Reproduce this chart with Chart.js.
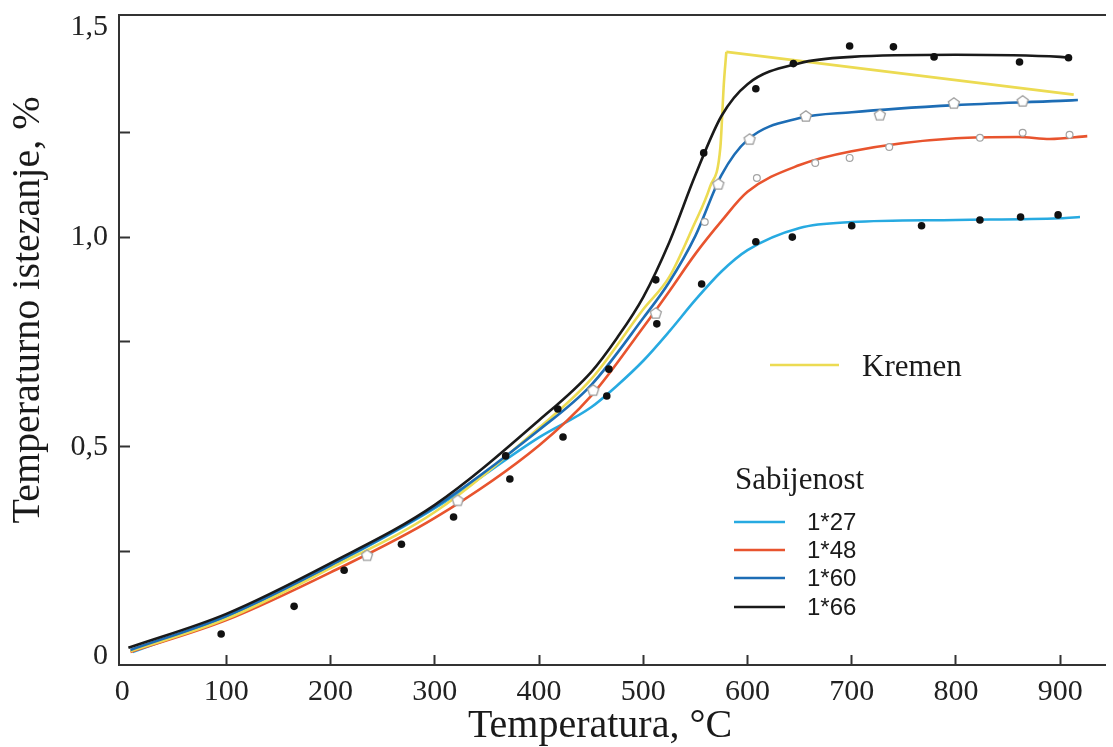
<!DOCTYPE html>
<html><head><meta charset="utf-8">
<script src="https://cdn.jsdelivr.net/npm/chart.js@4/dist/chart.umd.min.js"></script>
<style>html,body{margin:0;padding:0;background:#fff;}canvas{display:block;}</style>
</head><body>
<canvas id="c" width="1113" height="747" style="width:1113px;height:747px"></canvas>
<script>
// ---- data ----
const xTickValues = [0, 100, 200, 300, 400, 500, 600, 700, 800, 900];
const yTickValues = [0, 0.25, 0.5, 0.75, 1, 1.25, 1.5];
const yTickLabels = ['0', '', '0,5', '', '1,0', '', '1,5'];

const seriesNames = ['1*27', '1*48', '1*60', '1*66'];
const kremenName = 'Kremen';
const legendTitle = 'Sabijenost';
const xTitle = 'Temperatura, °C';
const yTitle = 'Temperaturno istezanje, %';

// fitted curves
const c27X = [10, 100, 200, 300, 400, 450, 475, 500, 525, 550, 575, 600, 650, 700, 800, 900, 919];
const c27Y = [0.010, 0.094, 0.215, 0.353, 0.522, 0.594, 0.646, 0.705, 0.775, 0.850, 0.918, 0.969, 1.022, 1.036, 1.041, 1.045, 1.048];

const c48X = [8, 100, 200, 300, 400, 450, 500, 525, 550, 575, 600, 650, 700, 800, 860, 890, 926];
const c48Y = [0.010, 0.086, 0.200, 0.330, 0.503, 0.621, 0.785, 0.871, 0.960, 1.038, 1.108, 1.172, 1.205, 1.236, 1.239, 1.234, 1.241];

const c60X = [8, 100, 200, 300, 400, 450, 500, 525, 550, 575, 600, 650, 700, 800, 900, 917];
const c60Y = [0.015, 0.096, 0.217, 0.356, 0.540, 0.647, 0.807, 0.893, 1.003, 1.148, 1.232, 1.284, 1.298, 1.315, 1.325, 1.327];

const c66X = [6, 100, 200, 300, 400, 450, 475, 500, 525, 550, 575, 600, 650, 700, 800, 900, 910];
const c66Y = [0.020, 0.101, 0.222, 0.361, 0.563, 0.678, 0.760, 0.857, 0.988, 1.148, 1.289, 1.365, 1.415, 1.430, 1.435, 1.430, 1.428];

const kremenX = [8, 100, 200, 300, 400, 450, 500, 525, 548, 564, 574, 575.5, 577.1, 579.7, 913];
const kremenY = [0.012, 0.089, 0.210, 0.344, 0.545, 0.661, 0.828, 0.905, 1.026, 1.120, 1.215, 1.279, 1.358, 1.442, 1.340];
const kremenPeakIndex = 13;

// measured points
const p27X = [95, 165, 213, 268, 318, 372, 423, 465, 513, 556, 608, 643, 700, 767, 823, 862, 898];
const p27Y = [0.053, 0.119, 0.205, 0.267, 0.332, 0.423, 0.523, 0.621, 0.793, 0.888, 0.989, 1.000, 1.027, 1.027, 1.041, 1.048, 1.053];

const p48X = [559, 609, 665, 698, 736, 823, 864, 909];
const p48Y = [1.036, 1.141, 1.177, 1.189, 1.215, 1.237, 1.249, 1.244];

const p60X = [235, 322, 452, 512, 572, 602, 656, 727, 798, 864];
const p60Y = [0.241, 0.372, 0.635, 0.819, 1.127, 1.234, 1.289, 1.292, 1.320, 1.325];

const p66X = [368, 418, 467, 512, 558, 608, 644, 698, 740, 779, 861, 908];
const p66Y = [0.478, 0.590, 0.685, 0.898, 1.201, 1.354, 1.414, 1.456, 1.454, 1.430, 1.418, 1.428];

// ---- styles ----
const colors = ['#27aae1', '#e8542e', '#1d6db5', '#1a1a1a'];
const kremenColor = '#ecdb52';
const axisColor = '#333333';
const serif = '"Liberation Serif", "Times New Roman", serif';
const sans = '"Liberation Sans", Arial, sans-serif';

const pts = (xs, ys) => xs.map((x, i) => ({x: x, y: ys[i]}));

function pentagonImage(r, stroke) {
  const s = Math.ceil(2 * r + 4);
  const c = document.createElement('canvas');
  c.width = s; c.height = s;
  const g = c.getContext('2d');
  g.beginPath();
  for (let i = 0; i < 5; i++) {
    const a = -Math.PI / 2 + i * 2 * Math.PI / 5;
    const px = s / 2 + r * Math.cos(a), py = s / 2 + r * Math.sin(a) + 0.5;
    if (i) g.lineTo(px, py); else g.moveTo(px, py);
  }
  g.closePath();
  g.fillStyle = '#ffffff'; g.fill();
  g.strokeStyle = stroke; g.lineWidth = 1.3; g.stroke();
  return c;
}
const pent = pentagonImage(5.8, '#9c9c9c');

const lineDs = (label, data, color, order) => ({
  label, data, borderColor: color, backgroundColor: color, borderWidth: 2.6,
  pointRadius: 0, pointHoverRadius: 0, fill: false, cubicInterpolationMode: 'monotone', order
});
const pointDs = (label, data, extra) => Object.assign({
  label, data, showLine: false, order: 0, pointHoverRadius: 0
}, extra);

const kremenPts = pts(kremenX, kremenY);
const datasets = [
  lineDs(kremenName, kremenPts.slice(0, kremenPeakIndex + 1), kremenColor, 3),
  Object.assign(lineDs(kremenName, kremenPts.slice(kremenPeakIndex), kremenColor, 3), {cubicInterpolationMode: 'default', tension: 0}),
  lineDs(seriesNames[0], pts(c27X, c27Y), colors[0], 5),
  lineDs(seriesNames[1], pts(c48X, c48Y), colors[1], 4),
  lineDs(seriesNames[2], pts(c60X, c60Y), colors[2], 2),
  lineDs(seriesNames[3], pts(c66X, c66Y), colors[3], 1),
  pointDs(seriesNames[0] + ' data', pts(p27X, p27Y), {pointStyle: 'circle', pointRadius: 3.8, backgroundColor: '#111', borderColor: '#111', borderWidth: 0}),
  pointDs(seriesNames[1] + ' data', pts(p48X, p48Y), {pointStyle: 'circle', pointRadius: 3.4, backgroundColor: '#fff', borderColor: '#a3a3a3', borderWidth: 1.2}),
  pointDs(seriesNames[2] + ' data', pts(p60X, p60Y), {pointStyle: pent, pointRadius: 6}),
  pointDs(seriesNames[3] + ' data', pts(p66X, p66Y), {pointStyle: 'circle', pointRadius: 3.8, backgroundColor: '#111', borderColor: '#111', borderWidth: 0})
];

const overlay = {
  id: 'overlay',
  afterDraw(chart) {
    const ctx = chart.ctx;
    ctx.save();
    ctx.fillStyle = '#1a1a1a';
    ctx.font = '40px ' + serif;
    ctx.textAlign = 'center'; ctx.textBaseline = 'middle';
    ctx.fillText(xTitle, 600, 726);
    ctx.save();
    ctx.translate(28, 310); ctx.rotate(-Math.PI / 2);
    ctx.fillText(yTitle, 0, 0);
    ctx.restore();
    ctx.lineCap = 'butt';
    ctx.strokeStyle = kremenColor; ctx.lineWidth = 2.6;
    ctx.beginPath(); ctx.moveTo(770, 365); ctx.lineTo(839, 365); ctx.stroke();
    ctx.textAlign = 'left';
    ctx.font = '31px ' + serif;
    ctx.fillText(kremenName, 862, 368);
    ctx.fillText(legendTitle, 735, 481);
    const ys = [522, 550, 578, 607];
    ctx.font = '24px ' + sans;
    seriesNames.forEach((n, i) => {
      ctx.strokeStyle = colors[i];
      ctx.beginPath(); ctx.moveTo(734, ys[i]); ctx.lineTo(785, ys[i]); ctx.stroke();
      ctx.fillStyle = '#1a1a1a';
      ctx.fillText(n, 807, ys[i] + 1);
    });
    ctx.restore();
  }
};

const hideAt = (vals) => (c) => (c.tick && vals.includes(c.tick.value)) ? 'rgba(0,0,0,0)' : axisColor;

new Chart(document.getElementById('c'), {
  type: 'line',
  data: {datasets},
  options: {
    responsive: false, animation: false, events: [],
    layout: {padding: {top: 15, right: 8, bottom: 0, left: 0}},
    plugins: {legend: {display: false}, tooltip: {enabled: false}},
    scales: {
      x: {
        type: 'linear', position: 'bottom', min: -3, max: 943,
        afterBuildTicks: s => { s.ticks = xTickValues.map(v => ({value: v})); },
        afterFit: s => { s.height = 82; s.paddingLeft = 0; s.paddingRight = 0; },
        border: {display: true, color: axisColor, width: 2},
        grid: {display: true, drawOnChartArea: false, drawTicks: true, tickLength: -10, tickWidth: 2, tickColor: hideAt([0])},
        ticks: {padding: 19, color: '#222', autoSkip: false, maxRotation: 0,
          font: {family: serif, size: 30}, callback: v => String(v)}
      },
      xTop: {
        type: 'linear', position: 'top', min: -3, max: 943,
        afterFit: s => { s.height = 0; s.paddingLeft = 0; s.paddingRight = 0; },
        border: {display: true, color: axisColor, width: 2},
        grid: {display: false}, ticks: {display: false}
      },
      y: {
        type: 'linear', position: 'left', min: -0.021, max: 1.53,
        afterBuildTicks: s => { s.ticks = yTickValues.map(v => ({value: v})); },
        afterFit: s => { s.width = 119; s.paddingTop = 0; s.paddingBottom = 0; },
        border: {display: true, color: axisColor, width: 2},
        grid: {display: true, drawOnChartArea: false, drawTicks: true, tickLength: -11, tickWidth: 2, tickColor: hideAt([0, 1.5])},
        ticks: {padding: 22, color: '#222', autoSkip: false,
          font: {family: serif, size: 30}, callback: (v, i) => yTickLabels[i]}
      }
    }
  },
  plugins: [overlay]
});
</script>
</body></html>
